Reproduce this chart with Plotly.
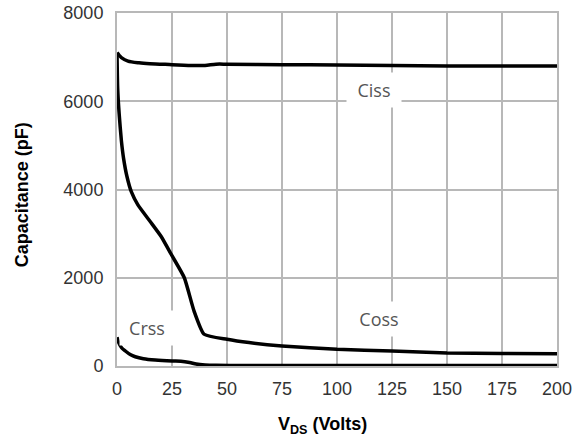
import plotly.graph_objects as go

# Capacitance vs drain-source voltage
ciss_v = [0, 1, 2, 5, 10, 15, 25, 35, 40, 45, 50, 75, 100, 125, 150, 175, 200]
ciss_pf = [7100, 7040, 6990, 6910, 6870, 6850, 6830, 6810, 6810, 6840, 6840, 6830, 6820, 6810, 6800, 6800, 6800]

coss_v = [0, 0.3, 1, 2, 3, 4.5, 6.5, 9.5, 15, 20, 25, 30.6, 35, 39.6, 50, 60, 75, 100, 125, 150, 175, 200]
coss_pf = [7100, 6300, 5700, 5100, 4700, 4300, 3950, 3650, 3280, 2940, 2500, 2000, 1250, 720, 605, 530, 455, 380, 340, 295, 285, 280]

crss_v = [0, 0.7, 2, 3.8, 6, 8.3, 12, 17.4, 25, 29, 33, 36, 40, 45, 60, 100, 150, 200]
crss_pf = [650, 540, 420, 340, 260, 210, 165, 135, 115, 110, 80, 45, 25, 15, 10, 10, 10, 10]

# label name, x (V), y (pF)
curve_labels = ["Ciss", "Coss", "Crss"]
label_v = [117, 119, 13.5]
label_pf = [6265, 1070, 850]

x_ticks = [0, 25, 50, 75, 100, 125, 150, 175, 200]
y_ticks = [0, 2000, 4000, 6000, 8000]

GRID = "#b8b8b8"
TITLE_FONT = dict(family="Liberation Sans", size=18, color="black")
TICK_FONT = dict(family="Liberation Sans", size=18, color="#333333")

fig = go.Figure()
for name, v, c, smooth in [("Ciss", ciss_v, ciss_pf, 0.8),
                           ("Coss", coss_v, coss_pf, 0.5),
                           ("Crss", crss_v, crss_pf, 0.8)]:
    fig.add_trace(go.Scatter(
        x=v, y=c, mode="lines", name=name, showlegend=False,
        line=dict(color="black", width=3.5, shape="spline", smoothing=smooth),
    ))

# curve names on white boxes
for name, v, c in zip(curve_labels, label_v, label_pf):
    fig.add_annotation(
        x=v, y=c, text=name, showarrow=False, width=44,
        font=dict(family="Open Sans", size=18, color="#555555"),
        bgcolor="white", borderpad=5,
    )

# axis titles
fig.add_annotation(
    xref="paper", yref="paper", x=0.468, y=-0.168,
    text="<b>V<sub>DS</sub> (Volts)</b>", showarrow=False,
    font=TITLE_FONT, xanchor="center", yanchor="middle",
)
fig.add_annotation(
    xref="paper", yref="paper", x=-0.214, y=0.486,
    text="<b>Capacitance (pF)</b>", showarrow=False, textangle=-90,
    font=TITLE_FONT, xanchor="center", yanchor="middle",
)

axis_common = dict(
    showgrid=True, gridcolor=GRID, gridwidth=2,
    showline=True, linecolor=GRID, linewidth=2, mirror=True,
    zeroline=False, automargin=False,
    ticks="outside", tickcolor="rgba(0,0,0,0)",
    tickfont=TICK_FONT,
)
fig.update_xaxes(range=[0, 200], tickvals=x_ticks, ticklen=5, **axis_common)
fig.update_yaxes(range=[0, 8000], tickvals=y_ticks, ticklen=8, **axis_common)

fig.update_layout(
    width=584, height=444,
    margin=dict(l=117, r=27, t=13, b=78),
    paper_bgcolor="white", plot_bgcolor="white",
)

fig.write_html("out.html")
